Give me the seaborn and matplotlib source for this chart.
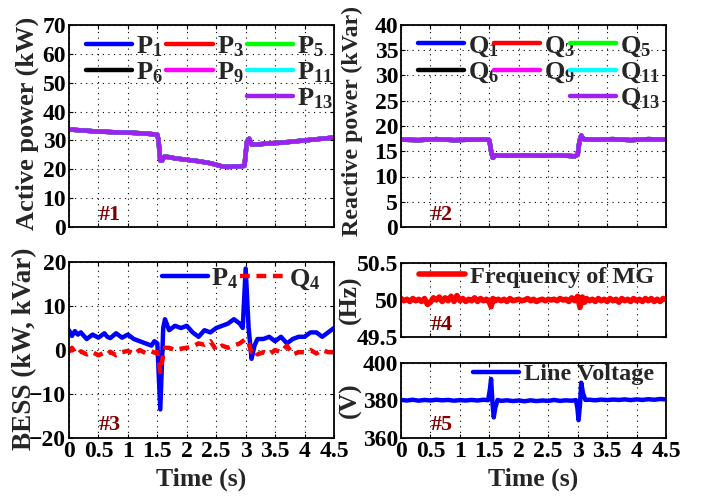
import numpy as np
import pandas as pd
import matplotlib
matplotlib.use("Agg")
import matplotlib.pyplot as plt
import seaborn as sns
from matplotlib.lines import Line2D

sns.set_theme(style="ticks")
plt.rcParams['font.family'] = ['Liberation Serif', 'DejaVu Serif']
plt.rcParams['font.weight'] = 'bold'
plt.rcParams['mathtext.fontset'] = 'custom'
plt.rcParams['mathtext.rm'] = 'Liberation Serif:bold'
plt.rcParams['mathtext.it'] = 'Liberation Serif:bold'
plt.rcParams['mathtext.bf'] = 'Liberation Serif:bold'

# ---------------- data ----------------
# Panel 1: active power of loads (all curves overlap)
t_p = [0.0, 0.2, 0.4, 0.6, 0.8, 1.0, 1.2, 1.4, 1.5, 1.52, 1.55, 1.58, 1.62, 1.7, 1.8, 2.0, 2.2, 2.4,
       2.6, 2.7, 2.8, 2.9, 2.98, 3.02, 3.06, 3.1, 3.2, 3.4, 3.6, 3.8, 4.0, 4.2, 4.4, 4.5]
p_vals = [33.8, 33.5, 33.2, 33.0, 32.8, 32.7, 32.5, 32.2, 32.0, 30.0, 23.0, 23.0, 24.4, 24.2, 23.8, 23.3, 22.8, 22.1,
          21.0, 20.8, 21.0, 21.0, 21.2, 29.5, 30.6, 28.6, 28.6, 29.0, 29.2, 29.6, 30.0, 30.4, 30.8, 31.0]
p_names = ['P$_1$', 'P$_3$', 'P$_5$', 'P$_6$', 'P$_9$', 'P$_{11}$', 'P$_{13}$']
q_names = ['Q$_1$', 'Q$_3$', 'Q$_5$', 'Q$_6$', 'Q$_9$', 'Q$_{11}$', 'Q$_{13}$']
load_colors = ['#0000FF', '#FF0000', '#00FF00', '#000000', '#FF00FF', '#00FFFF', '#A020F0']

# Panel 2: reactive power of loads
t_q = [0.0, 0.3, 0.6, 0.9, 1.2, 1.45, 1.5, 1.53, 1.56, 1.6, 1.8, 2.1, 2.4, 2.7, 2.95, 3.0, 3.03, 3.06,
       3.1, 3.3, 3.6, 3.9, 4.2, 4.5]
q_vals = [17.3, 17.2, 17.4, 17.2, 17.3, 17.3, 17.2, 15.0, 13.7, 14.2, 14.1, 14.2, 14.1, 14.2, 14.0, 14.3, 17.0, 18.1,
          17.4, 17.3, 17.4, 17.2, 17.4, 17.3]

# Panel 3: BESS
t_b = [0.0, 0.05, 0.1, 0.15, 0.2, 0.3, 0.4, 0.5, 0.6, 0.65, 0.7, 0.8, 0.9, 1.0, 1.1, 1.2, 1.3, 1.4, 1.45,
       1.5, 1.55, 1.6, 1.63, 1.7, 1.8, 1.9, 2.0, 2.1, 2.2, 2.3, 2.4, 2.5, 2.6, 2.7, 2.8, 2.9, 2.95, 3.0,
       3.05, 3.1, 3.15, 3.2, 3.3, 3.4, 3.5, 3.6, 3.7, 3.8, 3.9, 4.0, 4.1, 4.2, 4.3, 4.4, 4.5]
p4_vals = [4.5, 3.2, 4.3, 3.5, 4.0, 2.5, 3.5, 2.8, 3.8, 3.0, 2.7, 3.8, 2.8, 3.5, 2.5, 2.0, 1.5, 1.0, 2.0,
           1.5, -13.5, 5.0, 7.0, 4.5, 5.5, 5.0, 5.5, 4.0, 3.0, 4.5, 4.0, 5.0, 5.5, 6.0, 7.0, 6.0, 5.0, 18.5,
           5.0, -2.0, 1.0, 2.5, 2.5, 3.0, 2.0, 3.0, 1.5, 2.5, 3.0, 3.0, 4.0, 4.0, 3.0, 4.0, 5.0]
q4_vals = [-0.5, 0.5, -0.5, -1.0, -0.3, -1.0, -0.5, -1.2, -0.6, -1.0, -0.4, -1.2, -0.5, -0.2, -1.0, 0.0, -0.7, -0.3, -0.6,
           -0.5, -5.0, -1.0, 0.5, 0.5, 0.0, 0.3, 0.5, 0.8, 1.5, 1.2, 2.0, 0.0, 1.0, 0.5, 1.0, 1.5, 2.0, 2.5,
           1.5, -0.5, 0.0, -1.0, -0.5, -1.0, 0.0, -0.5, 1.0, -1.0, -0.5, -0.5, 0.0, -0.8, 0.0, -0.5, -0.5]

# Panel 4: frequency of MG
t_f = [0.0, 0.05, 0.1, 0.15, 0.2, 0.25, 0.3, 0.35, 0.4, 0.45, 0.5, 0.55, 0.6, 0.65, 0.7, 0.75, 0.8, 0.85,
       0.9, 0.95, 1.0, 1.05, 1.1, 1.15, 1.2, 1.25, 1.3, 1.35, 1.4, 1.45, 1.5, 1.53, 1.56, 1.6, 1.65, 1.7,
       1.75, 1.8, 1.85, 1.9, 1.95, 2.0, 2.05, 2.1, 2.15, 2.2, 2.25, 2.3, 2.35, 2.4, 2.45, 2.5, 2.55, 2.6,
       2.65, 2.7, 2.75, 2.8, 2.85, 2.9, 2.95, 3.0, 3.04, 3.08, 3.12, 3.15, 3.2, 3.25, 3.3, 3.35, 3.4, 3.45,
       3.5, 3.55, 3.6, 3.65, 3.7, 3.75, 3.8, 3.85, 3.9, 3.95, 4.0, 4.05, 4.1, 4.15, 4.2, 4.25, 4.3, 4.35,
       4.4, 4.45, 4.5]
f_vals = [50.02, 49.99, 50.01, 49.98, 50.02, 49.99, 50.01, 49.98, 50.02, 49.94, 49.97, 50.03, 50.00, 50.04, 49.98, 50.03, 49.99, 50.05,
          49.98, 50.06, 49.99, 50.02, 49.98, 50.01, 49.99, 50.03, 49.98, 50.02, 49.99, 50.01, 49.97, 49.91, 50.02, 49.99, 50.01, 49.99,
          50.01, 49.98, 50.02, 49.99, 50.00, 50.01, 49.99, 50.00, 50.02, 49.99, 50.01, 49.98, 50.00, 50.01, 49.99, 50.01, 50.00, 50.01,
          49.99, 50.02, 50.00, 50.01, 49.98, 50.03, 49.99, 50.05, 49.90, 50.04, 49.97, 50.02, 49.99, 50.01, 49.98, 50.02, 49.99, 50.01,
          49.98, 50.02, 49.99, 50.01, 49.97, 50.02, 49.99, 50.01, 49.98, 50.02, 49.99, 50.01, 49.98, 50.02, 49.99, 50.02, 49.98, 50.01,
          49.98, 50.02, 50.01]

# Panel 5: line voltage
t_v = [0.0, 0.1, 0.2, 0.3, 0.4, 0.5, 0.6, 0.7, 0.8, 0.9, 1.0, 1.1, 1.2, 1.3, 1.4, 1.48, 1.51, 1.53, 1.555,
       1.575, 1.6, 1.64, 1.7, 1.8, 1.9, 2.0, 2.1, 2.2, 2.3, 2.4, 2.5, 2.6, 2.7, 2.8, 2.9, 2.97, 2.995,
       3.015, 3.04, 3.06, 3.09, 3.13, 3.2, 3.3, 3.4, 3.5, 3.6, 3.7, 3.8, 3.9, 4.0, 4.1, 4.2, 4.3, 4.4, 4.5]
v_vals = [380.3, 380.0, 380.4, 379.9, 380.3, 380.0, 380.4, 380.1, 380.3, 379.9, 380.2, 380.0, 380.3, 380.0, 380.4, 380.2, 386.0, 391.5, 378.0,
          371.0, 376.0, 380.3, 379.8, 380.1, 379.7, 380.0, 379.6, 380.1, 379.7, 380.0, 379.8, 380.3, 379.8, 380.1, 379.9, 380.2, 376.0,
          369.5, 378.0, 389.5, 384.0, 380.3, 380.4, 380.1, 380.5, 380.2, 380.5, 380.3, 380.6, 380.2, 380.6, 380.3, 380.7, 380.4, 380.8, 380.6]

x_ticks = [0, 0.5, 1, 1.5, 2, 2.5, 3, 3.5, 4, 4.5]
x_tick_labels = ['0', '0.5', '1', '1.5', '2', '2.5', '3', '3.5', '4', '4.5']

# ---------------- figure ----------------
W, H = 709, 496
fig = plt.figure(figsize=(W / 100, H / 100), dpi=100)

def box(l, t, r, b):
    return [l / W, 1 - b / H, (r - l) / W, (b - t) / H]

ax1 = fig.add_axes(box(69, 25, 334, 227))
ax2 = fig.add_axes(box(401, 25, 666, 227))
ax3 = fig.add_axes(box(69, 262, 334, 438))
ax4 = fig.add_axes(box(401, 263, 666, 337))
ax5 = fig.add_axes(box(401, 363, 666, 438))

TICK_FS = 17
LEG_FS = 19
LW = 3.2
TAG_COLOR = '#800000'

def style(ax, ylim, yticks, ytl, bottom):
    ax.set_xlim(0, 4.5)
    ax.set_ylim(*ylim)
    ax.set_xticks(x_ticks)
    ax.set_yticks(yticks)
    ax.set_yticklabels(ytl, fontsize=TICK_FS, fontweight='bold')
    ax.set_ylabel('')
    if bottom:
        ax.set_xticklabels(x_tick_labels, fontsize=TICK_FS, fontweight='bold')
        ax.set_xlabel('Time (s)', fontsize=18.5, fontweight='bold', labelpad=4)
    else:
        ax.set_xticklabels([])
        ax.set_xlabel('')
    ax.grid(True, color='black', linestyle=(0, (1, 4)), linewidth=0.8)
    ax.tick_params(direction='in', length=3, width=0.8, pad=2, colors='black',
                   top=True, right=True)
    for s in ax.spines.values():
        s.set_linewidth(1.3)
        s.set_color('black')
    ax.set_facecolor('white')

# Panel 1
df_p = pd.DataFrame({'t': t_p, 'v': p_vals})
for name, col in zip(p_names, load_colors):
    sns.lineplot(data=df_p, x='t', y='v', ax=ax1, color=col, lw=LW, label=name, legend=False)
# Panel 2
df_q = pd.DataFrame({'t': t_q, 'v': q_vals})
for name, col in zip(q_names, load_colors):
    sns.lineplot(data=df_q, x='t', y='v', ax=ax2, color=col, lw=LW, label=name, legend=False)

def load_legend(ax, names, colsp, x0):
    hs = [Line2D([], [], color=c, lw=LW) for c in load_colors]
    blank = Line2D([], [], color='none', lw=0)
    handles = [hs[0], hs[3], blank, hs[1], hs[4], blank, hs[2], hs[5], hs[6]]
    labels = [names[0], names[3], '', names[1], names[4], '', names[2], names[5], names[6]]
    ax.legend(handles, labels, ncol=3, loc='upper left', bbox_to_anchor=(x0, 1.02),
              frameon=False, handlelength=1.75, handletextpad=0.15,
              columnspacing=colsp, labelspacing=0.06, borderaxespad=0.1,
              prop={'weight': 'bold', 'size': LEG_FS})

load_legend(ax1, p_names, 0.12, 0.015)
load_legend(ax2, q_names, -0.22, 0.015)

# Panel 3
df_b = pd.DataFrame({'t': t_b, 'P': p4_vals, 'Q': q4_vals})
sns.lineplot(data=df_b, x='t', y='P', ax=ax3, color='#0000FF', lw=LW, label='P$_4$', legend=False)
sns.lineplot(data=df_b, x='t', y='Q', ax=ax3, color='#FF0000', lw=LW, label='Q$_4$', legend=False,
             linestyle=(0, (2.2, 1.5)))
ax3.legend(ncol=2, loc='upper right', bbox_to_anchor=(1.0, 1.05), frameon=False,
           handlelength=1.75, handletextpad=0.1, columnspacing=0.1, borderaxespad=0.1,
           prop={'weight': 'bold', 'size': LEG_FS})

# Panel 4
df_f = pd.DataFrame({'t': t_f, 'f': f_vals})
sns.lineplot(data=df_f, x='t', y='f', ax=ax4, color='#FF0000', lw=4.0, label='Frequency of MG', legend=False)
ax4.legend(loc='upper right', bbox_to_anchor=(1.0, 1.13), frameon=False,
           handlelength=1.9, handletextpad=0.2, borderaxespad=0.1,
           prop={'weight': 'bold', 'size': 17.5})

# Panel 5
df_v = pd.DataFrame({'t': t_v, 'v': v_vals})
sns.lineplot(data=df_v, x='t', y='v', ax=ax5, color='#0000FF', lw=LW, label='Line Voltage', legend=False)
ax5.legend(loc='upper right', bbox_to_anchor=(1.0, 1.16), frameon=False,
           handlelength=1.9, handletextpad=0.2, borderaxespad=0.1,
           prop={'weight': 'bold', 'size': 17.5})

style(ax1, (0, 70), range(0, 71, 10), [str(v) for v in range(0, 71, 10)], False)
style(ax2, (0, 40), range(0, 41, 5), [str(v) for v in range(0, 41, 5)], False)
style(ax3, (-20, 20), range(-20, 21, 10), ['\u221220', '\u221210', '0', '10', '20'], True)
style(ax4, (49.5, 50.5), [49.5, 50, 50.5], ['49.5', '50', '50.5'], False)
style(ax5, (360, 400), [360, 380, 400], ['360', '380', '400'], True)

# y labels
fig.text(27 / W, 1 - 123 / H, 'Active power (kW)', rotation=90, ha='center', va='center',
         fontsize=19, fontweight='bold')
fig.text(352 / W, 1 - 121 / H, 'Reactive power (kVar)', rotation=90, ha='center', va='center',
         fontsize=17.2, fontweight='bold')
fig.text(25 / W, 1 - 349 / H, 'BESS (kW, kVar)', rotation=90, ha='center', va='center',
         fontsize=19.5, fontweight='bold')
fig.text(350 / W, 1 - 300 / H, '(Hz)', rotation=90, ha='center', va='center',
         fontsize=18.5, fontweight='bold')
fig.text(350 / W, 1 - 400 / H, '(V)', rotation=90, ha='center', va='center',
         fontsize=18.5, fontweight='bold')

# panel tags
tags = [(ax1, '#1', 0.06), (ax2, '#2', 0.06), (ax3, '#3', 0.075), (ax4, '#4', 0.16), (ax5, '#5', 0.17)]
for ax, tag, y in tags:
    ax.text(0.155, y, tag, transform=ax.transAxes,
            ha='center', va='center', fontsize=16, fontweight='bold', color=TAG_COLOR)

fig.savefig('out.png', dpi=100, facecolor='white')
